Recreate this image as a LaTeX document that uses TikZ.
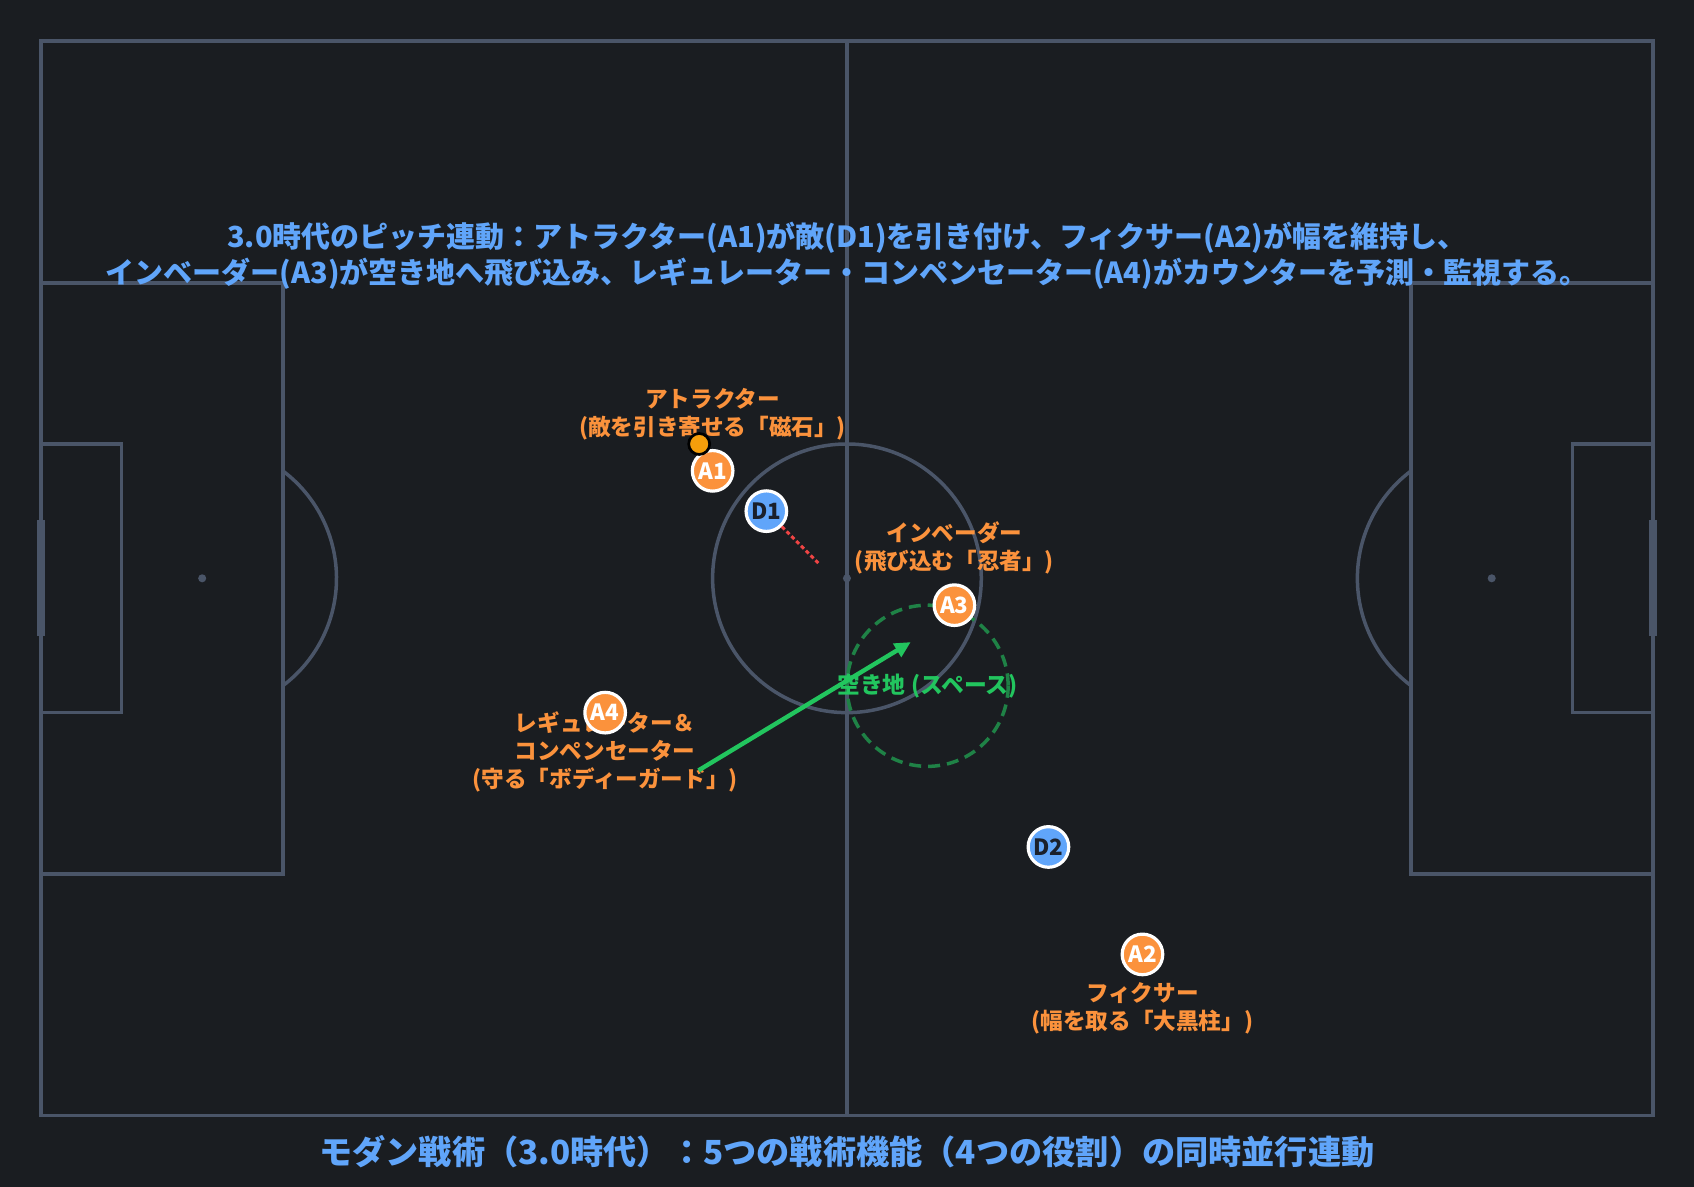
\documentclass[tikz,border=0pt]{standalone}
\usepackage{fontspec}
\setmainfont{Noto Sans CJK JP}
\usetikzlibrary{arrows.meta}
\definecolor{bg}{HTML}{1A1D21}
\definecolor{pline}{HTML}{4A5568}
\definecolor{orng}{HTML}{FB923C}
\definecolor{blu}{HTML}{60A5FA}
\definecolor{grn}{HTML}{22C55E}
\definecolor{dgrn}{HTML}{1F8246}
\definecolor{rd}{HTML}{EF4444}
\definecolor{ballc}{HTML}{F59E0B}
\definecolor{dtext}{HTML}{1A202C}
\begin{document}
\begin{tikzpicture}[x={(6.7165pt,0pt)}, y={(0pt,-6.7165pt)},
  pitch/.style={draw=pline, line width=1.75pt, line join=miter},
  goalline/.style={draw=pline, line width=4.3pt, line cap=rect},
  attacker/.style={circle, fill=orng, draw=white, line width=1.6pt, minimum size=20.3pt, inner sep=0pt, text=white, font=\bfseries\fontsize{11.2}{12}\selectfont},
  defender/.style={attacker, fill=blu, text=dtext},
  ballnode/.style={circle, fill=ballc, draw=black, line width=1.35pt, minimum size=10.5pt, inner sep=0pt},
  role/.style={text=orng, align=center, font=\bfseries\fontsize{11.3}{14}\selectfont},
  headline/.style={text=blu, align=center, font=\bfseries\fontsize{14.5}{17.9}\selectfont},
  footline/.style={text=blu, font=\bfseries\fontsize{16.6}{20}\selectfont},
  spacezone/.style={draw=dgrn, line width=1.75pt, dash pattern=on 6pt off 3.5pt},
  spacetext/.style={text=grn, font=\bfseries\fontsize{11.4}{13}\selectfont},
  runarrow/.style={draw=grn, line width=2.2pt, -{Triangle[length=8pt,width=7.5pt]}},
  markline/.style={draw=rd, line width=1.5pt, dash pattern=on 2pt off 1.4pt}
]
\useasboundingbox (-3.052,-3.052) rectangle (123.06,85.31);
\fill[bg] (-3.052,-3.052) rectangle (123.06,85.31);

% pitch
\draw[pitch] (0,0) rectangle (120,80);
\draw[pitch] (60,0) -- (60,80);
\draw[pitch] (60,40) circle[radius=10];
\fill[pline] (60,40) circle[radius=0.3];
\draw[pitch] (0,18) rectangle (18,62);
\draw[pitch] (102,18) rectangle (120,62);
\draw[pitch] (0,30) rectangle (6,50);
\draw[pitch] (114,30) rectangle (120,50);
\fill[pline] (12,40) circle[radius=0.3];
\fill[pline] (108,40) circle[radius=0.3];
\draw[pitch] (18,32) arc[start angle=-53.13, end angle=53.13, radius=10];
\draw[pitch] (102,32) arc[start angle=233.13, end angle=126.87, radius=10];
\draw[goalline] (0,36) -- (0,44);
\draw[goalline] (120,36) -- (120,44);

% titles
\node[headline] (title) at (60,15.96) {3.0時代のピッチ連動：アトラクター(A1)が敵(D1)を引き付け、フィクサー(A2)が幅を維持し、\\インベーダー(A3)が空き地へ飛び込み、レギュレーター・コンペンセーター(A4)がカウンターを予測・監視する。};
\node[footline] (footer) at (60,82.7) {モダン戦術（3.0時代）：5つの戦術機能（4つの役割）の同時並行連動};

% role labels
\node[role] (LA1) at (50,27.8) {アトラクター\\(敵を引き寄せる「磁石」)};
\node[role] (LA3) at (68,37.75) {インベーダー\\(飛び込む「忍者」)};
\node[role] (LA4) at (42,52.9) {レギュレーター＆\\コンペンセーター\\(守る「ボディーガード」)};
\node[role] (LA2) at (82,72) {フィクサー\\(幅を取る「大黒柱」)};

% space zone
\coordinate (space) at (66,48);
\draw[spacezone] (space) circle[radius=6];
\node[spacetext] (spacelbl) at (space) {空き地 (スペース)};

% players
\node[attacker] (A1) at (50,32) {A1};
\node[attacker] (A2) at (82,68) {A2};
\node[attacker] (A3) at (68,42) {A3};
\node[attacker] (A4) at (42,50) {A4};
\node[defender] (D1) at (54,35) {D1};
\node[defender] (D2) at (75,60) {D2};
\node[ballnode] (ball) at (49,30) {};

% connectors
\coordinate (d1t) at (58,39);
\draw[markline] (D1) -- (d1t);
\coordinate (arrS) at (48.95,54.3);
\coordinate (arrE) at (64.75,44.75);
\draw[runarrow] (arrS) -- (arrE);
\end{tikzpicture}
\end{document}
